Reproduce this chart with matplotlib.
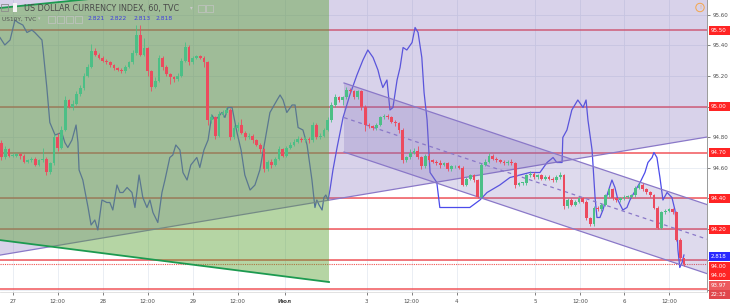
import matplotlib
matplotlib.use('Agg')
import matplotlib.pyplot as plt
from matplotlib.patches import Polygon, Rectangle
from matplotlib.collections import PatchCollection
import numpy as np

# ---------------- data ----------------
bar_index = list(range(-3, 180))
first_open = 94.76
closes = [
    94.67, 94.72, 94.68, 94.68, 94.69, 94.68, 94.64, 94.65, 94.66, 94.62,
    94.65, 94.66, 94.57, 94.63, 94.80, 94.73, 94.85, 95.04, 95.00, 95.02,
    95.08, 95.12, 95.20, 95.26, 95.36, 95.34, 95.32, 95.30, 95.29, 95.27,
    95.25, 95.24, 95.23, 95.26, 95.29, 95.35, 95.47, 95.34, 95.38, 95.23,
    95.13, 95.17, 95.32, 95.26, 95.21, 95.19, 95.18, 95.20, 95.30, 95.39,
    95.29, 95.32, 95.33, 95.32, 95.29, 94.91, 94.93, 94.81, 94.95, 94.96,
    94.98, 94.80, 94.86, 94.88, 94.83, 94.80, 94.81, 94.78, 94.75, 94.72,
    94.59, 94.64, 94.62, 94.66, 94.72, 94.68, 94.73, 94.75, 94.77, 94.79,
    94.78, 94.79, 94.78, 94.88, 94.80, 94.81, 94.85, 94.91, 95.01, 95.06,
    95.04, 95.06, 95.11, 95.10, 95.06, 95.10, 95.00, 94.88, 94.87, 94.86,
    94.88, 94.93, 94.94, 94.93, 94.90, 94.89, 94.85, 94.65, 94.67, 94.70,
    94.71, 94.67, 94.61, 94.68, 94.65, 94.64, 94.63, 94.62, 94.63, 94.59,
    94.61, 94.61, 94.60, 94.49, 94.53, 94.55, 94.52, 94.41, 94.62, 94.64,
    94.68, 94.66, 94.65, 94.64, 94.63, 94.64, 94.63, 94.49, 94.50, 94.50,
    94.55, 94.56, 94.54, 94.55, 94.53, 94.54, 94.53, 94.52, 94.54, 94.55,
    94.35, 94.39, 94.36, 94.38, 94.40, 94.38, 94.27, 94.23, 94.34, 94.33,
    94.36, 94.42, 94.46, 94.40, 94.39, 94.40, 94.41, 94.41, 94.42, 94.47,
    94.49, 94.46, 94.44, 94.42, 94.34, 94.21, 94.31, 94.32, 94.33, 94.31,
    94.13, 94.01, 93.97]
highs = [
    94.78, 94.74, 94.73, 94.70, 94.70, 94.70, 94.69, 94.66, 94.67, 94.67,
    94.66, 94.73, 94.67, 94.64, 94.82, 94.83, 94.87, 95.07, 95.05, 95.04,
    95.10, 95.14, 95.22, 95.28, 95.41, 95.38, 95.35, 95.33, 95.31, 95.30,
    95.28, 95.26, 95.25, 95.27, 95.30, 95.37, 95.53, 95.53, 95.45, 95.39,
    95.24, 95.19, 95.34, 95.33, 95.27, 95.22, 95.20, 95.22, 95.32, 95.42,
    95.40, 95.33, 95.34, 95.34, 95.33, 95.30, 94.95, 94.94, 94.97, 94.98,
    95.00, 94.99, 94.88, 94.90, 94.92, 94.84, 94.83, 94.82, 94.79, 94.76,
    94.73, 94.65, 94.66, 94.67, 94.74, 94.73, 94.74, 94.77, 94.79, 94.81,
    94.80, 94.81, 94.80, 94.90, 94.89, 94.83, 94.86, 94.93, 95.03, 95.08,
    95.07, 95.07, 95.13, 95.12, 95.11, 95.11, 95.11, 95.01, 94.89, 94.88,
    94.89, 94.94, 94.95, 94.95, 94.94, 94.91, 94.90, 94.86, 94.68, 94.72,
    94.73, 94.74, 94.68, 94.69, 94.70, 94.66, 94.65, 94.65, 94.64, 94.64,
    94.62, 94.62, 94.62, 94.61, 94.54, 94.56, 94.56, 94.53, 94.63, 94.66,
    94.70, 94.69, 94.67, 94.66, 94.65, 94.65, 94.66, 94.64, 94.51, 94.51,
    94.56, 94.58, 94.57, 94.56, 94.56, 94.55, 94.55, 94.54, 94.55, 94.57,
    94.56, 94.40, 94.40, 94.39, 94.41, 94.41, 94.39, 94.28, 94.35, 94.35,
    94.37, 94.43, 94.47, 94.47, 94.41, 94.41, 94.42, 94.42, 94.43, 94.48,
    94.50, 94.50, 94.47, 94.45, 94.43, 94.35, 94.32, 94.33, 94.34, 94.34,
    94.32, 94.14, 94.01]
lows = [
    94.65, 94.66, 94.67, 94.67, 94.67, 94.66, 94.63, 94.63, 94.64, 94.61,
    94.61, 94.64, 94.55, 94.56, 94.62, 94.71, 94.72, 94.84, 94.99, 94.98,
    95.01, 95.07, 95.11, 95.19, 95.25, 95.33, 95.31, 95.29, 95.28, 95.26,
    95.24, 95.23, 95.22, 95.22, 95.25, 95.28, 95.34, 95.33, 95.33, 95.20,
    95.10, 95.12, 95.16, 95.24, 95.20, 95.15, 95.16, 95.17, 95.19, 95.29,
    95.27, 95.28, 95.31, 95.31, 95.26, 94.88, 94.89, 94.79, 94.80, 94.93,
    94.95, 94.78, 94.79, 94.84, 94.82, 94.78, 94.79, 94.76, 94.74, 94.70,
    94.57, 94.58, 94.60, 94.61, 94.65, 94.67, 94.67, 94.72, 94.74, 94.76,
    94.77, 94.77, 94.76, 94.77, 94.79, 94.79, 94.80, 94.84, 94.90, 95.00,
    95.03, 95.01, 95.05, 95.09, 95.05, 95.05, 94.98, 94.84, 94.86, 94.85,
    94.85, 94.87, 94.92, 94.92, 94.89, 94.87, 94.83, 94.63, 94.64, 94.66,
    94.69, 94.66, 94.59, 94.60, 94.64, 94.63, 94.62, 94.60, 94.61, 94.58,
    94.58, 94.60, 94.59, 94.48, 94.48, 94.52, 94.51, 94.40, 94.40, 94.61,
    94.63, 94.65, 94.64, 94.63, 94.62, 94.62, 94.62, 94.47, 94.48, 94.49,
    94.49, 94.54, 94.53, 94.53, 94.52, 94.52, 94.52, 94.51, 94.51, 94.53,
    94.33, 94.34, 94.35, 94.35, 94.37, 94.37, 94.26, 94.22, 94.22, 94.32,
    94.32, 94.35, 94.41, 94.39, 94.38, 94.38, 94.39, 94.40, 94.40, 94.41,
    94.46, 94.45, 94.43, 94.41, 94.33, 94.20, 94.20, 94.30, 94.31, 94.30,
    94.12, 93.99, 93.96]

# US10Y overlay (bar position, yield)
us10y_x = [-3.4, -2.1, -0.7, 0.6, 1.4, 2.7, 3.8, 5.1, 5.9, 7.8, 8.1, 9.1, 9.9,
           11.3, 13.1, 13.9, 14.7, 15.8, 16.9, 17.4, 17.7, 18.7, 20.1, 20.9, 21.9,
           22.7, 23.8, 25.1, 25.9, 26.7, 27.8, 28.6, 29.4, 30.5, 31.8, 32.6, 33.7,
           34.7, 35.8, 36.6, 37.4, 38.7, 39.8, 40.6, 41.9, 42.7, 43.5, 44.6, 45.4,
           46.5, 47.5, 49.1, 49.9, 51.0, 52.1, 53.1, 53.9, 54.7, 55.8, 56.6, 57.4,
           58.5, 59.8, 60.9, 61.9, 63.3, 64.6, 65.9, 67.3, 68.6, 70.5, 71.3, 72.1,
           73.1, 74.5, 75.3, 76.1, 77.4, 78.5, 79.8, 80.6, 81.1, 81.7, 82.5, 83.0,
           83.5, 84.1, 84.6, 85.4, 86.5, 87.3, 88.1, 89.9, 91.8, 93.4, 94.7, 96.1,
           97.4, 97.9, 98.7, 99.8, 100.6, 101.4, 102.5, 103.3, 104.1, 105.1, 106.5,
           107.3, 108.1, 109.1, 109.7, 110.5, 111.3, 113.1, 113.9, 118.5, 121.9,
           124.6, 126.5, 129.9, 132.6, 135.3, 137.9, 140.6, 142.5, 144.1, 145.1,
           146.5, 146.7, 147.8, 149.1, 149.9, 150.7, 152.1, 152.9, 153.4, 154.5,
           155.3, 155.8, 156.6, 157.4, 158.7, 159.8, 160.6, 161.4, 162.7, 163.8,
           164.6, 166.5, 167.3, 168.6, 169.4, 170.5, 171.0, 171.8, 172.6, 173.4,
           174.5, 175.8, 176.6, 177.1, 177.4, 177.9, 178.5, 179.0]
us10y_y = [2.905, 2.902, 2.904, 2.912, 2.911, 2.910, 2.907, 2.908, 2.907, 2.904, 2.900, 2.885, 2.871,
           2.866, 2.867, 2.863, 2.861, 2.864, 2.870, 2.863, 2.852, 2.848, 2.837, 2.830, 2.832,
           2.828, 2.840, 2.839, 2.839, 2.836, 2.846, 2.843, 2.843, 2.845, 2.843, 2.837, 2.850,
           2.841, 2.837, 2.840, 2.835, 2.831, 2.843, 2.848, 2.857, 2.858, 2.862, 2.860, 2.851,
           2.848, 2.854, 2.857, 2.853, 2.860, 2.864, 2.874, 2.872, 2.873, 2.875, 2.873, 2.877,
           2.877, 2.867, 2.860, 2.850, 2.844, 2.846, 2.852, 2.864, 2.875, 2.880, 2.882, 2.880,
           2.875, 2.878, 2.878, 2.869, 2.868, 2.862, 2.848, 2.837, 2.840, 2.838, 2.836, 2.841,
           2.842, 2.840, 2.844, 2.852, 2.861, 2.867, 2.873, 2.882, 2.890, 2.896, 2.900, 2.897,
           2.892, 2.889, 2.885, 2.888, 2.876, 2.877, 2.888, 2.893, 2.901, 2.900, 2.903,
           2.909, 2.907, 2.897, 2.883, 2.872, 2.851, 2.847, 2.837, 2.837, 2.837,
           2.840, 2.843, 2.846, 2.849, 2.850, 2.851, 2.851, 2.855, 2.857, 2.855,
           2.855, 2.865, 2.868, 2.876, 2.878, 2.880, 2.877, 2.880, 2.872, 2.860,
           2.841, 2.833, 2.833, 2.836, 2.843, 2.848, 2.845, 2.840, 2.836, 2.837,
           2.840, 2.845, 2.847, 2.851, 2.855, 2.857, 2.859, 2.857, 2.849, 2.840,
           2.843, 2.841, 2.836, 2.829, 2.820, 2.813, 2.815, 2.818]

levels = [95.50, 95.00, 94.70, 94.40, 94.20, 94.00, 93.81]
last_price = 93.97
us10y_ohlc = ['2.821', '2.822', '2.813', '2.818']
tick_pos = [0, 12, 24, 36, 48, 60, 72.6, 94.4, 106.4, 118.4, 139.3, 151.3, 163, 175]
tick_lab = ['27', '12:00', '28', '12:00', '29', '12:00', 'Июл', '3', '12:00', '4',
            '5', '12:00', '6', '12:00']
price_ticks = [95.6, 95.4, 95.2, 95.0, 94.8, 94.6, 94.4, 94.2, 94.0, 93.8]
shown_price_labels = [95.6, 95.4, 95.2, 94.8, 94.6]

# ---------------- figure ----------------
W, H = 730, 308
fig = plt.figure(figsize=(W / 100, H / 100), dpi=100)
fig.patch.set_facecolor('white')
ax = fig.add_axes([0, (H - 292) / H, 707 / W, 292 / H])
ax2 = ax.twinx()
X0, X1 = -3.387, 185.15
ax.set_xlim(X0, X1)
ax.set_ylim(93.789, 95.696)
ax2.set_ylim(2.8032, 2.92)
ax2.set_axis_off()
ax.set_facecolor('white')

# grid & ticks
ax.set_xticks(tick_pos)
ax.set_xticklabels(tick_lab)
ax.set_yticks(price_ticks)
ax.set_yticklabels(['%.2f' % v if v in shown_price_labels else '' for v in price_ticks])
ax.grid(True, color='#e6ebf2', lw=0.6, zorder=0)
ax.set_axisbelow(True)
ax.yaxis.tick_right()
ax.tick_params(axis='y', labelsize=4, colors='#4d4d4d', length=2, width=0.5, pad=2)
ax.tick_params(axis='x', labelsize=4, colors='#4d4d4d', length=2, width=0.5, pad=3)
for lbl in ax.get_xticklabels():
    if lbl.get_text() == 'Июл':
        lbl.set_fontweight('bold')
for s in ['top', 'left']:
    ax.spines[s].set_visible(False)
ax.spines['right'].set_color('#9a9a9a')
ax.spines['right'].set_linewidth(0.7)
ax.spines['bottom'].set_color('#d6d6d6')
ax.spines['bottom'].set_linewidth(0.5)

# horizontal levels
for lv in levels:
    ax.axhline(lv, color='#f0484e', lw=1.2, alpha=0.85, zorder=2)
ax.axhline(last_price, color='#ef5350', lw=0.8, ls=(0, (1, 1)), zorder=2)

T = ax.transData

# US10Y line
ax2.plot(us10y_x, us10y_y, color='#4b4bea', lw=0.9, zorder=2)

purple = '#7e6cba'
# purple triangle region
ax2.add_patch(Polygon([(X0, 94.030), (X1, 94.801), (X1, 96.5), (X0, 96.5)], closed=True,
                      fc=purple, alpha=0.3, ec='none', transform=T, zorder=5))
ax2.plot([X0, X1], [94.030, 94.801], color='#8a78c8', lw=0.9, transform=T, zorder=5.1)
# channel
cx0, cx1 = 88.35, X1
ax2.add_patch(Polygon([(cx0, 95.154), (cx1, 94.360), (cx1, 93.909), (cx0, 94.703)], closed=True,
                      fc=purple, alpha=0.25, ec='none', transform=T, zorder=5.2))
ax2.plot([cx0, cx1], [95.154, 94.360], color='#8a78c8', lw=0.9, transform=T, zorder=5.3)
ax2.plot([cx0, cx1], [94.703, 93.909], color='#8a78c8', lw=0.9, transform=T, zorder=5.3)
ax2.plot([cx0, cx1], [94.928, 94.134], color='#8a78c8', lw=0.9, ls=(0, (3, 3)),
         transform=T, zorder=5.3)
# green triangle
gx1 = 84.35
ax2.add_patch(Polygon([(X0, 95.644), (gx1, 95.859), (gx1, 93.854), (X0, 94.128)], closed=True,
                      fc='#5ba235', alpha=0.45, ec='none', transform=T, zorder=6))
ax2.plot([X0, gx1], [94.128, 93.854], color='#1c9a50', lw=1.3, transform=T, zorder=6.5)
ax2.plot([X0, gx1], [95.644, 95.859], color='#1c9a50', lw=1.3, transform=T, zorder=6.5)

# candles (drawn above the drawings' fills)
opens = [first_open] + closes[:-1]
up_c, dn_c = '#4cbf86', '#ec4a5e'
cols, rects = [], []
his = [max(h, o, c) for h, o, c in zip(highs, opens, closes)]
los = [min(l, o, c) for l, o, c in zip(lows, opens, closes)]
bw = 0.74
for x, o, c in zip(bar_index, opens, closes):
    cols.append(up_c if c >= o else dn_c)
    rects.append(Rectangle((x - bw / 2, min(o, c)), bw, max(abs(c - o), 0.005)))
ax2.vlines(bar_index, los, his, colors=cols, lw=0.6, transform=T, zorder=7)
ax2.add_collection(PatchCollection(rects, facecolors=cols, edgecolors='none',
                                   transform=T, zorder=7.5))
ax2.set_ylim(2.8032, 2.92)
ax.set_xlim(X0, X1)

# ---------------- header ----------------
def px(x, y):
    return x / W, 1 - y / H

fig.patches.append(Rectangle(px(1, 11), 7 / W, 7 / H, transform=fig.transFigure,
                             fc='none', ec='#8c8c8c', lw=0.6))
fig.patches.append(Rectangle(px(13, 12), 4 / W, 9 / H, transform=fig.transFigure,
                             fc='#f4f4f4', ec='none'))
fig.text(*px(24, 8), 'US DOLLAR CURRENCY INDEX, 60, TVC', fontsize=5.8, color='#4a4a4a',
         va='center', ha='left')
fig.text(*px(190, 8), '▾', fontsize=4, color='#c8c8c8', va='center', ha='left')
for bx in [198, 206]:
    fig.patches.append(Rectangle(px(bx, 11.5), 7 / W, 7 / H, transform=fig.transFigure,
                                 fc='none', ec='#c4c4c4', lw=0.5))
fig.text(*px(2, 19), 'US10Y, TVC', fontsize=4.2, color='#555555', va='center', ha='left')
fig.text(*px(38, 19), '▾', fontsize=3.5, color='#c8c8c8', va='center', ha='left')
for bx in [48, 57, 66, 75]:
    fig.patches.append(Rectangle(px(bx, 22.5), 7 / W, 7 / H, transform=fig.transFigure,
                                 fc='none', ec='#c4c4c4', lw=0.5))
for xx, t in zip([88, 110, 133, 155], us10y_ohlc):
    fig.text(*px(xx, 19), t, fontsize=4.3, color='#3d3de0', va='center', ha='left')

# warning icon
fig.text(*px(700, 7.5), '!', fontsize=3.5, color='#f5a54a', ha='center', va='center',
         bbox=dict(boxstyle='circle,pad=0.35', fc='none', ec='#f5a54a', lw=0.7))

# ---------------- price-scale labels ----------------
def ypix(trans, val):
    return H - trans.transform((0, val))[1]

def label_box(ypx, text, fc, tc='white'):
    x0, w, h = 708.5, 21.5, 9.0
    fig.patches.append(Rectangle(((x0) / W, 1 - (ypx + h / 2) / H), w / W, h / H,
                                 transform=fig.transFigure, fc=fc, ec='none', zorder=5))
    fig.text((x0 + 2.5) / W, 1 - ypx / H, text, fontsize=4, color=tc, va='center', ha='left',
             zorder=6)

red_box = '#ff2424'
for lv in levels[:5]:
    label_box(ypix(ax.transData, lv), '%.2f' % lv, red_box)
base = ypix(ax.transData, 94.00)
label_box(ypix(ax2.transData, float(us10y_ohlc[3])) + 1.5, us10y_ohlc[3], '#2a2aff')
label_box(base + 6.5, '94.00', red_box)
label_box(base + 16.2, '94.00', red_box)
label_box(base + 25.5, '%.2f' % last_price, '#ec5a5e')
label_box(base + 34.5, '22:32', '#e0474c')

fig.savefig('out.png', dpi=100)
